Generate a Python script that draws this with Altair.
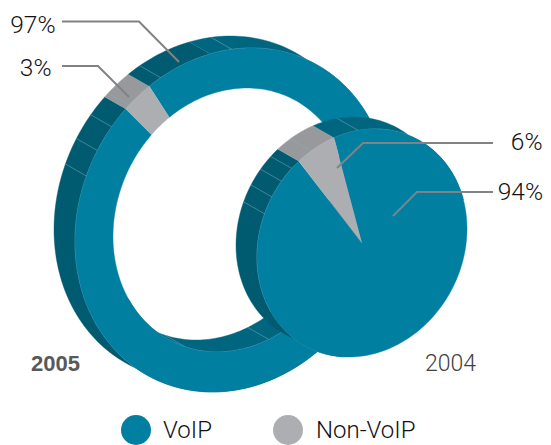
import numpy as np
import pandas as pd
import altair as alt

# data
ring_shares = [97, 3]          # 2005: VoIP, Non-VoIP
pie_shares = [94, 6]           # 2004: VoIP, Non-VoIP
series_names = ["VoIP", "Non-VoIP"]
year_labels = ["2005", "2004"]
share_labels = ["97%", "3%", "6%", "94%"]

TEAL, GRAY = "#007FA1", "#ADAEB2"
WALL_DARK, WALL_MID, WALL_GRAY = "#005A70", "#00657F", "#98999D"
SEAM = "#7FB2C3"
LEADER = "#808285"
RHO = -0.125
DEPTH = (-21, -12)

ring_outer = (232, 220, 157, 172)
ring_inner = (232, 220, 119, 132)
pie_face = (362, 243, 105, 114)
ring_start, pie_start = 227.4, 233.0
ring_seams = [202, 211, 220, 229, 243, 270]
ring_inner_seams = [72, 113]
pie_seams = [202, 211, 220, 228, 241, 268]


def pt(e, t, back=False):
    cx, cy, sx, sy = e
    r = np.radians(t)
    x = cx + sx * np.cos(r)
    y = cy + sy * (RHO * np.cos(r) + np.sqrt(1 - RHO ** 2) * np.sin(r))
    return (x + DEPTH[0], y + DEPTH[1]) if back else (x, y)


rows = []
pid = 0


def add(points, fill, stroke=None, sw=0.4):
    global pid
    pid += 1
    for i, (x, y) in enumerate(points):
        rows.append(dict(px=x, py=y, i=i, poly=pid, fill=fill,
                         stroke=stroke or fill, sw=sw))


def arc(e, t1, t2, back=False):
    n = max(3, int(abs(t2 - t1) / 1.5) + 2)
    return [pt(e, t, back) for t in np.linspace(t1, t2, n)]


def wall(e, t1, t2, color):
    add(arc(e, t1, t2) + arc(e, t2, t1, True), color)


def seam(e, t):
    add([pt(e, t), pt(e, t, True)], "transparent", SEAM, 0.5)


# ---- 2005 ring
r_end = ring_start + ring_shares[1] * 3.6
wall(ring_outer, 47, ring_start, WALL_DARK)
wall(ring_outer, ring_start, r_end, WALL_GRAY)
wall(ring_outer, r_end, 262, WALL_DARK)
wall(ring_outer, 262, 400, WALL_MID)
for t in ring_seams:
    seam(ring_outer, t)
wall(ring_inner, -20, 40, WALL_DARK)
wall(ring_inner, 40, 125, WALL_MID)
wall(ring_inner, 125, 150, WALL_DARK)
for t in ring_inner_seams:
    seam(ring_inner, t)
add(arc(ring_outer, 120, 330), "transparent", SEAM, 0.5)
add(arc(ring_inner, 20, 140), "transparent", SEAM, 0.5)
add(arc(ring_outer, r_end, ring_start + 360) +
    arc(ring_inner, ring_start + 360, r_end), TEAL)
add(arc(ring_outer, ring_start, r_end) +
    arc(ring_inner, r_end, ring_start), GRAY)

# ---- 2004 pie
p_end = pie_start + pie_shares[1] * 3.6
wall(pie_face, 100, pie_start, WALL_DARK)
wall(pie_face, pie_start, p_end, WALL_GRAY)
wall(pie_face, p_end, 345, WALL_MID)
for t in pie_seams:
    seam(pie_face, t)
add(arc(pie_face, 110, 300), "transparent", SEAM, 0.6)
centre = [(pie_face[0], pie_face[1])]
add(centre + arc(pie_face, p_end, pie_start + 360), TEAL)
add(centre + arc(pie_face, pie_start, p_end), GRAY)

# ---- leaders
leader_lines = [
    [(62, 21.5), (139, 21.5), (179, 62)],
    [(62, 66), (98, 66), (129, 97)],
    [(493, 143), (363, 143), (337, 168)],
    [(493, 192), (417, 192), (393, 216)],
]
for line in leader_lines:
    add(line, "transparent", LEADER, 2)

df = pd.DataFrame(rows)

W, H = 535, 437
xs = alt.Scale(domain=[8, 8 + W], range=[0, W], nice=False, zero=False)
ys = alt.Scale(domain=[8, 8 + H], range=[0, H], nice=False, zero=False)
X = lambda f: alt.X(f, type="quantitative", scale=xs, axis=None)
Y = lambda f: alt.Y(f, type="quantitative", scale=ys, axis=None)

shapes = alt.Chart(df).mark_line(interpolate="linear").encode(
    x=X("px"), y=Y("py"), order="i:Q", detail="poly:N",
    fill=alt.Fill("fill:N", scale=None),
    stroke=alt.Stroke("stroke:N", scale=None),
    strokeWidth=alt.StrokeWidth("sw:Q", scale=None),
)

lab = pd.DataFrame({
    "label": share_labels,
    "tx": [55.5, 51.5, 542.5, 543],
    "ty": [32.5, 75.5, 150, 200],
})
labels = alt.Chart(lab).mark_text(
    align="right", baseline="alphabetic", font="Roboto", fontWeight=300,
    fontSize=24.5, color="#111113").encode(x=X("tx"), y=Y("ty"), text="label:N")

yr = pd.DataFrame({"label": year_labels, "tx": [31, 425], "ty": [371, 371]})
year_a = alt.Chart(yr.iloc[[0]]).mark_text(
    align="left", baseline="alphabetic", font="Liberation Sans",
    fontWeight="bold", fontSize=22, color="#58595B").encode(
    x=X("tx"), y=Y("ty"), text="label:N")
year_b = alt.Chart(yr.iloc[[1]]).mark_text(
    align="left", baseline="alphabetic", font="Roboto", fontWeight=300,
    fontSize=23, color="#3F4042").encode(
    x=X("tx"), y=Y("ty"), text="label:N")

leg = pd.DataFrame({"name": series_names, "cx": [136, 288], "cy": [430, 430],
                    "tx": [163, 316], "ty": [438, 438], "c": [TEAL, GRAY]})
dots = alt.Chart(leg).mark_point(filled=True, opacity=1, size=900, shape="circle").encode(
    x=X("cx"), y=Y("cy"), fill=alt.Fill("c:N", scale=None))
names = alt.Chart(leg).mark_text(
    align="left", baseline="alphabetic", font="Roboto", fontWeight=300,
    fontSize=24, color="#111113").encode(x=X("tx"), y=Y("ty"), text="name:N")

chart = alt.layer(shapes, labels, year_a, year_b, dots, names).properties(
    width=W, height=H, padding=0,
    autosize=alt.AutoSizeParams(type="none"),
).configure_view(stroke=None)

chart.save("out.html", embed_options={"renderer": "svg", "actions": False})
